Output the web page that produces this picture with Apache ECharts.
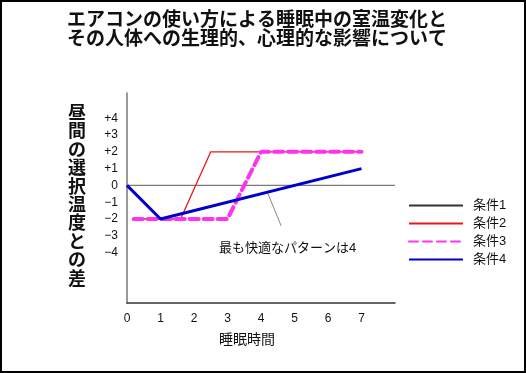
<!DOCTYPE html>
<html><head><meta charset="utf-8">
<script src="https://cdn.jsdelivr.net/npm/echarts@6/dist/echarts.min.js"></script>
<style>html,body{margin:0;padding:0;background:#fff}#c{width:526px;height:373px}</style>
</head><body><div id="c"></div>
<script>
var titleLines = ['エアコンの使い方による睡眠中の室温変化と', 'その人体への生理的、心理的な影響について'];
var yAxisTitle = '昼間の選択温度との差';
var xAxisTitle = '睡眠時間';
var seriesNames = ['条件1', '条件2', '条件3', '条件4'];
var xTickLabels = ['0', '1', '2', '3', '4', '5', '6', '7'];
var yTickValues = [4, 3, 2, 1, 0, -1, -2, -3, -4];
var yTickLabels = ['+4', '+3', '+2', '+1', '0', '−1', '−2', '−3', '−4'];
var cond1 = [[0, 0], [8, 0]];
var cond2 = [[0.2, -2], [1.6, -2], [2.5, 2], [7, 2]];
var cond3 = [[0.2, -2], [3.0, -2], [4.0, 2], [7, 2]];
var cond4 = [[0, 0], [1, -2], [7, 1]];
var noteLine = [[4.2, -0.46], [4.6, -2.4]];
var noteText = '最も快適なパターンは4';

var FONT = '"Liberation Sans", "Noto Sans CJK JP", sans-serif';
var chart = echarts.init(document.getElementById('c'), null, {renderer: 'canvas'});
chart.setOption({
  animation: false,
  backgroundColor: '#fff',
  grid: {left: 127, right: 131, top: 93, bottom: 70},
  xAxis: {
    type: 'value', min: 0, max: 8, interval: 1,
    axisLine: {show: true, onZero: false, lineStyle: {color: '#333', width: 1.5}},
    axisTick: {show: false}, splitLine: {show: false},
    axisLabel: {color: '#111', fontSize: 12, fontFamily: FONT, margin: 10,
      formatter: function (v) { var i = Math.round(v); return (i >= 0 && i < xTickLabels.length) ? xTickLabels[i] : ''; }},
    name: xAxisTitle, nameLocation: 'middle', nameGap: 30,
    nameTextStyle: {color: '#111', fontSize: 14, fontFamily: FONT, padding: [0, 28, 0, 0]}
  },
  yAxis: {
    type: 'value', min: -7, max: 5.5, interval: 1,
    axisLine: {show: true, onZero: false, lineStyle: {color: '#777', width: 1.5}},
    axisTick: {show: false}, splitLine: {show: false},
    axisLabel: {color: '#111', fontSize: 12, fontFamily: FONT, margin: 9,
      formatter: function (v) { var i = yTickValues.indexOf(Math.round(v)); return (i >= 0 && Math.abs(v - Math.round(v)) < 1e-6) ? yTickLabels[i] : ''; }}
  },
  legend: {
    orient: 'vertical', left: 403, top: 194, itemWidth: 54, itemHeight: 14, itemGap: 5,
    data: [
      {name: seriesNames[0], lineStyle: {color: '#333'}},
      {name: seriesNames[1]},
      {name: seriesNames[2]},
      {name: seriesNames[3]}
    ],
    itemStyle: {opacity: 0},
    textStyle: {color: '#111', fontSize: 13, fontFamily: FONT, padding: [0, 0, 0, 5]},
    selectedMode: false
  },
  series: [
    {name: seriesNames[0], type: 'line', data: cond1, symbol: 'none', lineStyle: {color: '#7a7a7a', width: 1.3}, itemStyle: {color: '#555'}, z: 2},
    {name: seriesNames[1], type: 'line', data: cond2, symbol: 'none', lineStyle: {color: '#e81818', width: 1.3}, itemStyle: {color: '#e81818'}, z: 3},
    {name: seriesNames[2], type: 'line', data: cond3, symbol: 'none', lineStyle: {color: '#ff33ee', width: 4, type: [9, 5], cap: 'round'}, itemStyle: {color: '#ff33ee'}, z: 4},
    {name: seriesNames[3], type: 'line', data: cond4, symbol: 'none', lineStyle: {color: '#0000cc', width: 3}, itemStyle: {color: '#0000cc'}, z: 5},
    {name: 'note', type: 'line', data: noteLine, symbol: 'none', silent: true, lineStyle: {color: '#888', width: 1}, z: 1}
  ],
  graphic: [
    {type: 'rect', shape: {x: 1, y: 1, width: 524, height: 371}, style: {fill: 'none', stroke: '#000', lineWidth: 2}, z: 100},
    {type: 'text', left: 67, top: 9, style: {text: titleLines.join('\n'), font: 'bold 19px "Noto Sans CJK JP", sans-serif', lineHeight: 19, fill: '#111'}},
    {type: 'text', left: 68, top: 103, style: {text: yAxisTitle.split('').join('\n'), font: 'bold 18px "Noto Sans CJK JP", sans-serif', lineHeight: 18.4, fill: '#111', align: 'center'}},
    {type: 'text', left: 219, top: 242, style: {text: noteText, font: '13px ' + FONT, fill: '#111'}}
  ]
});
</script></body></html>
